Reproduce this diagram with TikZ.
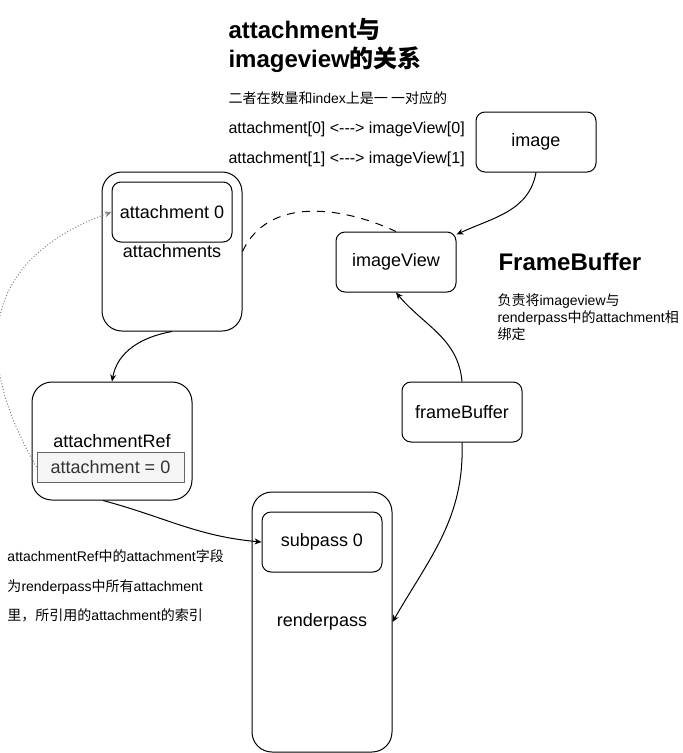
\documentclass[tikz,border=0pt]{standalone}
\usepackage{fontspec}
\setmainfont{Liberation Sans}
\newfontfamily\zh{Noto Sans CJK SC}
\usetikzlibrary{arrows.meta}

\definecolor{valfill}{HTML}{F5F5F5}
\definecolor{valline}{HTML}{666666}
\definecolor{valtext}{HTML}{333333}

\begin{document}
\begin{tikzpicture}[x=1pt, y=-1pt, line width=1pt,
  box/.style={draw, rounded corners=9pt, inner sep=0pt, minimum width=120pt, minimum height=60pt, font=\fontsize{18}{22}\selectfont},
  bigbox/.style={draw, rounded corners=20pt, inner sep=0pt, font=\fontsize{18}{22}\selectfont},
  conn/.style={-{Stealth[length=7pt,width=6pt]}},
  note/.style={anchor=base west, inner sep=0pt, font=\fontsize{14}{17}\selectfont},
  heading/.style={anchor=base west, inner sep=0pt, font=\fontsize{24}{29}\selectfont\bfseries}]

\useasboundingbox (0,0) rectangle (683,753);

% outer boxes
\node [bigbox, minimum width=140pt, minimum height=159pt] (atts) at (172,251.5) {attachments};
\node [bigbox, minimum width=160pt, minimum height=118pt] (attRef) at (112,441) {attachmentRef};
\node [bigbox, minimum width=140pt, minimum height=260pt] (renderpass) at (322,622) {renderpass};

% inner boxes
\node [box, fill=white] (att0) at (172,212) {attachment 0};
\node [box, fill=white] (subpass) at (322,542) {subpass 0};
\node [draw=valline, fill=valfill, text=valtext, inner sep=0pt, minimum width=147pt, minimum height=30pt,
  font=\fontsize{18}{22}\selectfont] (attRefVal) at (110.5,467) {attachment = 0};

\node [box] (image) at (536,142) {image};
\node [box] (imageView) at (396,262) {imageView};
\node [box] (frameBuffer) at (462,412) {frameBuffer};

% texts
\node [heading] (title1) at (228,38) {attachment{\zh 与}};
\node [heading] (title2) at (228,67) {imageview{\zh 的关系}};
\node [note] (pair) at (228,103) {{\zh 二者在数量和}index{\zh 上是一 一对应的}};
\node [note, font=\fontsize{16}{19}\selectfont] (map0) at (228,133) {attachment[0] <{-}{-}{-}> imageView[0]};
\node [note, font=\fontsize{16}{19}\selectfont] (map1) at (228,163) {attachment[1] <{-}{-}{-}> imageView[1]};

\node [heading] (fbTitle) at (498,270) {FrameBuffer};
\node [note] (fb1) at (497,305) {{\zh 负责将}imageview{\zh 与}};
\node [note] (fb2) at (497,322) {renderpass{\zh 中的}attachment{\zh 相}};
\node [note] (fb3) at (497,339) {{\zh 绑定}};

\node [note] (ref1) at (7,561) {attachmentRef{\zh 中的}attachment{\zh 字段}};
\node [note] (ref2) at (7,591) {{\zh 为}renderpass{\zh 中所有}attachment};
\node [note] (ref3) at (7,620) {{\zh 里，所引用的}attachment{\zh 的索引}};

% connectors
\draw [conn] (image.south) to[out=-100,in=25] ([yshift=-3pt]imageView.north east);
\draw [dash pattern=on 8pt off 7pt] (atts.east) to[out=65,in=155] (imageView.north);
\draw [conn] (atts.south) to[out=190,in=80] (attRef.north);
\draw [conn, gray, dash pattern=on 1pt off 2pt] (attRefVal.west) to[out=120,in=200,looseness=1.3] (att0.west);
\draw [conn] ([xshift=-9pt]attRef.south) to[out=-15,in=175] (subpass.west);
\draw [conn] (frameBuffer.north) to[out=95,in=-50] (imageView.south);
\draw [conn] (frameBuffer.south) to[out=-88,in=60] (renderpass.east);

\end{tikzpicture}
\end{document}
